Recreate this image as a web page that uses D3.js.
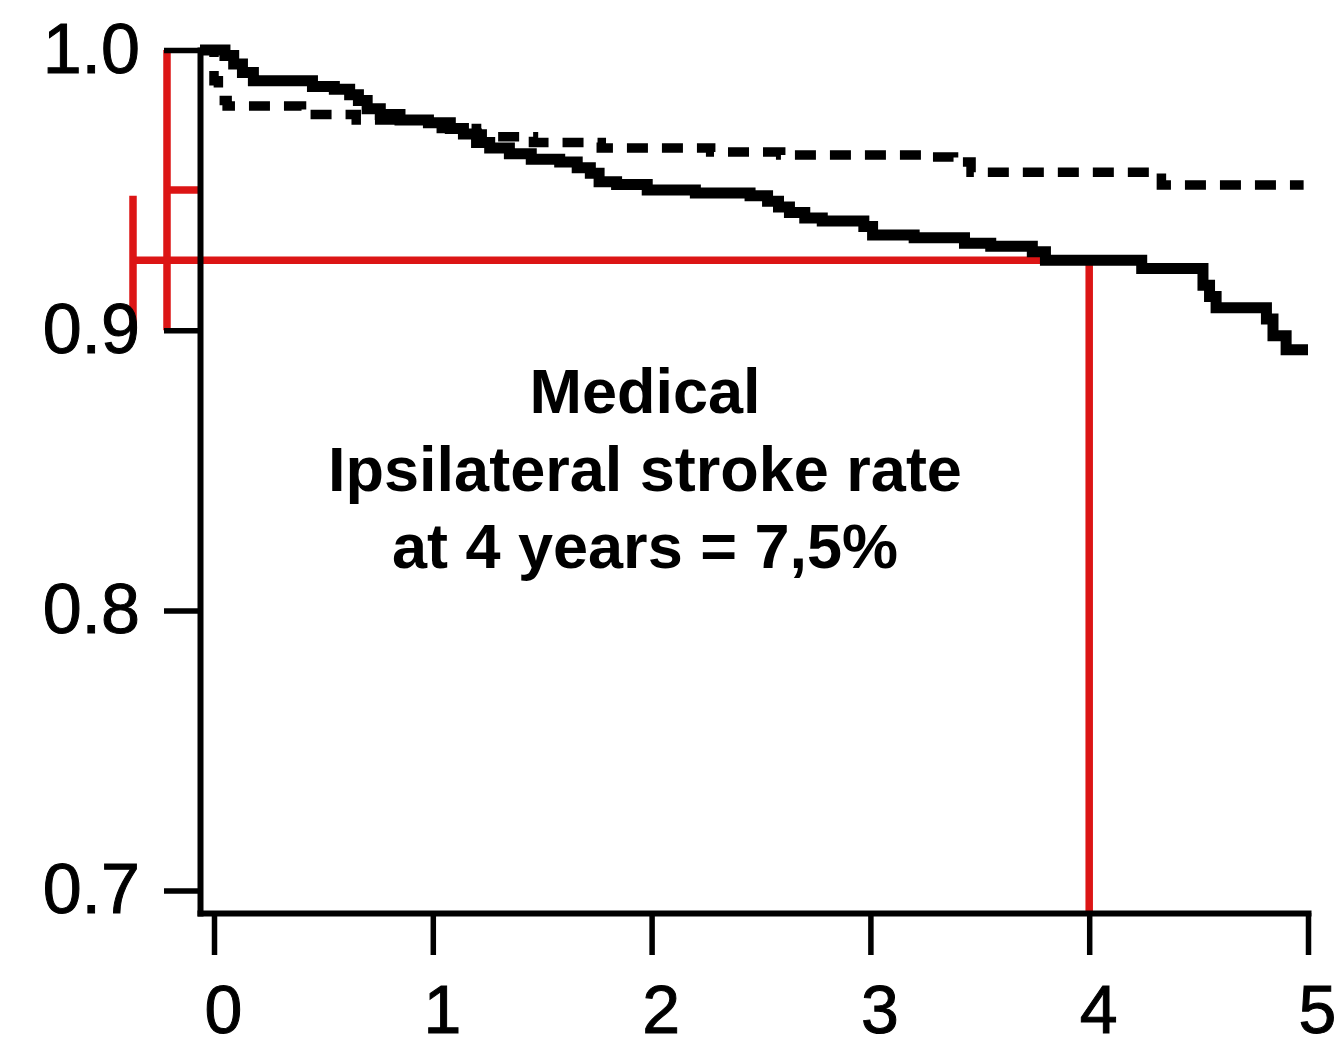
<!DOCTYPE html>
<html>
<head>
<meta charset="utf-8">
<script src="https://cdn.jsdelivr.net/npm/d3@7"></script>
<style>
  html, body { margin: 0; padding: 0; background: #fff; }
  svg { display: block; }
</style>
</head>
<body>
<script>
// Freedom from ipsilateral stroke by years of follow-up (step curves)
const medicalYears = [0, 0.05, 0.09, 0.13, 0.18, 0.45, 0.55, 0.62, 0.66, 0.70, 0.76, 0.85, 0.98, 1.08, 1.14, 1.20, 1.26, 1.35, 1.45, 1.58, 1.66, 1.72, 1.76, 1.84, 1.98, 2.20, 2.45, 2.53, 2.58, 2.63, 2.70, 2.78, 2.97, 3.01, 3.20, 3.43, 3.55, 3.74, 3.80, 4.24, 4.52, 4.55, 4.58, 4.81, 4.84, 4.90, 5.00];
const medicalSurvival = [1.0, 0.998, 0.995, 0.992, 0.989, 0.987, 0.986, 0.984, 0.982, 0.979, 0.977, 0.975, 0.974, 0.972, 0.970, 0.967, 0.965, 0.963, 0.961, 0.960, 0.958, 0.956, 0.953, 0.952, 0.950, 0.949, 0.948, 0.946, 0.944, 0.942, 0.940, 0.939, 0.937, 0.934, 0.933, 0.931, 0.930, 0.928, 0.925, 0.922, 0.916, 0.912, 0.908, 0.904, 0.898, 0.893, 0.893];

const surgicalYears = [0, 0.02, 0.06, 0.40, 0.65, 1.00, 1.20, 1.29, 1.46, 1.77, 2.27, 2.59, 3.26, 3.38, 3.46, 4.33, 4.98];
const surgicalSurvival = [0.989, 0.982, 0.980, 0.977, 0.975, 0.972, 0.970, 0.969, 0.967, 0.965, 0.9636, 0.9625, 0.9618, 0.960, 0.9564, 0.9518, 0.9518];

const xTickValues = [0, 1, 2, 3, 4, 5];
const xTickLabels = ["0", "1", "2", "3", "4", "5"];
const yTickValues = [0.7, 0.8, 0.9, 1.0];
const yTickLabels = ["0.7", "0.8", "0.9", "1.0"];

const annotationLines = ["Medical", "Ipsilateral stroke rate", "at 4 years = 7,5%"];

// 4-year reading: 1 - 0.075
const markerYear = 4;
const markerSurvival = 0.925;
// brackets on the left of the y axis
const outerBracket = [0.9, 1.0];
const outerBracketMid = 0.95;
const innerBracket = [0.9, 0.948];

const W = 1336, H = 1051;
const RED = "#dc1515";

const svg = d3.select("body").append("svg")
  .attr("width", W).attr("height", H)
  .style("background", "#fff");

const x = d3.scaleLinear().domain([-0.064, 5]).range([200, 1308]);
const y = d3.scaleLinear().domain([0.692, 1.0]).range([913, 50]);

const font = "'Liberation Sans', Arial, Helvetica, sans-serif";

// ---- red reference lines ----
const red = svg.append("g").attr("stroke", RED).attr("stroke-width", 7.5).attr("fill", "none");
const outerX = 167, innerX = 133;
red.append("line")
  .attr("x1", outerX).attr("x2", outerX)
  .attr("y1", y(outerBracket[1])).attr("y2", y(outerBracket[0]));
red.append("line")
  .attr("x1", outerX).attr("x2", x.range()[0] + 3)
  .attr("y1", y(outerBracketMid)).attr("y2", y(outerBracketMid));
red.append("line")
  .attr("x1", innerX).attr("x2", innerX)
  .attr("y1", y(innerBracket[1])).attr("y2", y(innerBracket[0]));
red.append("line")
  .attr("x1", innerX).attr("x2", x(markerYear))
  .attr("y1", y(markerSurvival)).attr("y2", y(markerSurvival));
red.append("line")
  .attr("x1", x(markerYear)).attr("x2", x(markerYear))
  .attr("y1", y(markerSurvival)).attr("y2", y.range()[0]);

// ---- axes ----
const yAxis = d3.axisLeft(y)
  .tickValues(yTickValues)
  .tickFormat((d, i) => yTickLabels[i])
  .tickSize(36).tickPadding(24).tickSizeOuter(0);
const xAxis = d3.axisBottom(x)
  .tickValues(xTickValues)
  .tickFormat((d, i) => xTickLabels[i])
  .tickSize(42).tickPadding(30).tickSizeOuter(0);

const gy = svg.append("g").attr("transform", `translate(${x.range()[0]},0)`).call(yAxis);
const gx = svg.append("g").attr("transform", `translate(0,${y.range()[0]})`).call(xAxis);

[gx, gy].forEach(g => {
  g.select(".domain").attr("stroke", "#000").attr("stroke-width", 6).attr("stroke-linecap", "square");
  g.selectAll(".tick line").attr("stroke", "#000").attr("stroke-width", 5.5);
  g.selectAll(".tick text")
    .attr("fill", "#000")
    .attr("stroke", "#000")
    .attr("stroke-width", 1)
    .style("font-family", font)
    .style("font-size", "70px");
});
gx.selectAll(".tick text").attr("dx", 9).style("font-size", "68px");

// ---- survival curves ----
const line = d3.line()
  .x(d => x(d.t))
  .y(d => y(d.s))
  .curve(d3.curveStepAfter);

const x0 = x.domain()[0];
const medical = [{ t: x0, s: 1 }].concat(medicalYears.map((t, i) => ({ t, s: medicalSurvival[i] })));
const surgical = [{ t: x0, s: 1 }].concat(surgicalYears.map((t, i) => ({ t, s: surgicalSurvival[i] })));

svg.append("path")
  .datum(surgical)
  .attr("d", line)
  .attr("fill", "none")
  .attr("stroke", "#000")
  .attr("stroke-width", 9.5)
  .attr("stroke-dasharray", "21,14");

svg.append("path")
  .datum(medical)
  .attr("d", line)
  .attr("fill", "none")
  .attr("stroke", "#000")
  .attr("stroke-width", 11);

// ---- annotation ----
const ann = svg.append("text")
  .attr("text-anchor", "middle")
  .style("font-family", font)
  .style("font-weight", "bold")
  .style("font-size", "63px")
  .attr("fill", "#000");
annotationLines.forEach((s, i) => {
  ann.append("tspan").attr("x", 645).attr("y", 413 + i * 77.5).text(s);
});
</script>
</body>
</html>
